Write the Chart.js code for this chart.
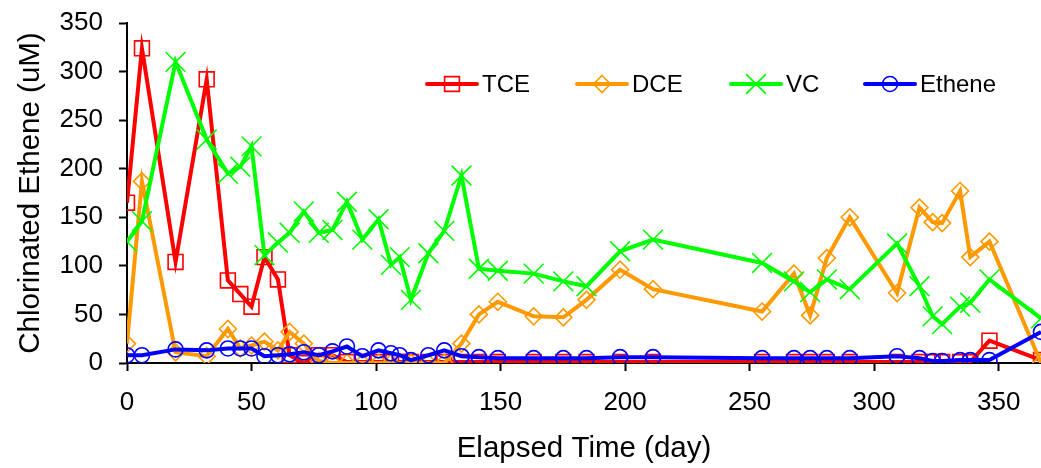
<!DOCTYPE html>
<html>
<head>
<meta charset="utf-8">
<script src="https://cdn.jsdelivr.net/npm/chart.js@4.4.1/dist/chart.umd.min.js"></script>
<style>
  html, body { margin: 0; padding: 0; background: #fff; overflow: hidden; }
  #wrap { position: relative; width: 1041px; height: 468px; }
</style>
</head>
<body>
<div id="wrap"><canvas id="myChart"></canvas></div>
<script>
// sampling days (shared by all four species)
const days = [0, 6, 19.5, 32, 40.5, 45.5, 50, 55.2, 60.6, 65.3, 71, 77, 82.5, 88.3, 94.5, 101,
  106, 109.5, 114, 121, 127.4, 134.3, 141.3, 148.9, 163.3, 175.2, 184.5, 198, 211.2, 255,
  267.8, 274.3, 281, 290.2, 309.2, 318.2, 323.5, 327.3, 334.5, 338.6, 346.3, 367];

// concentrations in uM
const tce = [165, 324, 104, 292, 85, 71, 58, 109, 86, 8, 0, 8, 8, 1, 1, 1,
  1, 1, 1, 1, 1, 1, 1, 1, 1, 1, 1, 1, 1, 1,
  1, 1, 1, 1, 1, 1, 1, 1, 1, 1, 23, 3];

const dce = [20, 187, 11, 7, 35, 15, 18, 22, 13, 32, 20, 2, 0, 0, 0, 0,
  0, 0, 0, 0, 0, 20, 50, 63, 48, 47, 65, 96, 76, 53,
  92, 49, 108, 150, 72, 160, 145, 144, 177, 109, 125, 0];

const vc = [125, 146, 310, 230, 195, 202, 223, 111, 124, 134, 156, 134, 137, 166, 127, 148,
  101, 109, 65, 113, 136, 193, 97, 95, 92, 84, 79, 115, 127, 103,
  84, 73, 86, 76, 123, 79, 48, 40, 58, 62, 86, 46];

const ethene = [8, 8, 14, 13, 15, 15, 15, 7, 8, 9, 11, 8, 12, 17, 7, 13,
  10, 8, 3, 8, 13, 7, 6, 5, 5, 5, 5, 6, 6, 5,
  5, 5, 5, 5, 7, 5, 2, 2, 3, 3, 3, 32];

const seriesNames = ["TCE", "DCE", "VC", "Ethene"];
const seriesValues = [tce, dce, vc, ethene];
const seriesColors = ["#FF0000", "#FF9900", "#00FF00", "#0000FF"];
const seriesMarkers = ["rect", "rectRot", "crossRot", "circle"];
const markerRadius = [10.5, 8.5, 14, 7.5];

const xTicks = [0, 50, 100, 150, 200, 250, 300, 350];

// build one line dataset per species
const datasets = seriesNames.map(function (name, s) {
  return {
    label: name,
    data: days.map(function (d, i) { return { x: d, y: seriesValues[s][i] }; }),
    borderColor: seriesColors[s],
    borderWidth: 4,
    tension: 0,
    pointStyle: seriesMarkers[s],
    pointRadius: markerRadius[s],
    pointHoverRadius: markerRadius[s],
    pointBorderColor: seriesColors[s],
    pointBackgroundColor: "rgba(0,0,0,0)",
    pointBorderWidth: 1.6,
    order: 4 - s // ethene ends up on top
  };
});

// draws a hollow marker the same way the points look
function drawMarker(ctx, style, x, y, r, color) {
  ctx.save();
  ctx.strokeStyle = color;
  ctx.lineWidth = 1.6;
  ctx.beginPath();
  if (style === "rect") {
    const h = r * Math.SQRT1_2;
    ctx.rect(x - h, y - h, 2 * h, 2 * h);
  } else if (style === "rectRot") {
    ctx.moveTo(x, y - r);
    ctx.lineTo(x + r, y);
    ctx.lineTo(x, y + r);
    ctx.lineTo(x - r, y);
    ctx.closePath();
  } else if (style === "crossRot") {
    const h = r * Math.SQRT1_2;
    ctx.moveTo(x - h, y - h);
    ctx.lineTo(x + h, y + h);
    ctx.moveTo(x - h, y + h);
    ctx.lineTo(x + h, y - h);
  } else {
    ctx.arc(x, y, r, 0, Math.PI * 2);
  }
  ctx.stroke();
  ctx.restore();
}

// legend row sitting inside the plot: line + marker + name
const legendStartX = [427, 577, 731, 865];
const legendLineLen = 50;
const legendY = 84;

const insideLegend = {
  id: "insideLegend",
  afterDatasetsDraw(chart) {
    const ctx = chart.ctx;
    chart.data.datasets.forEach(function (ds, i) {
      const x0 = legendStartX[i];
      ctx.save();
      ctx.strokeStyle = ds.borderColor;
      ctx.lineWidth = 4;
      ctx.lineCap = "round";
      ctx.beginPath();
      ctx.moveTo(x0, legendY);
      ctx.lineTo(x0 + legendLineLen, legendY);
      ctx.stroke();
      ctx.restore();
      drawMarker(ctx, ds.pointStyle, x0 + legendLineLen / 2, legendY, ds.pointRadius, ds.borderColor);
      ctx.save();
      ctx.fillStyle = "#000";
      ctx.font = "24px 'Liberation Sans', Arial, sans-serif";
      ctx.textBaseline = "middle";
      ctx.fillText(ds.label, x0 + legendLineLen + 5, legendY + 1);
      ctx.restore();
    });
  }
};

const fontFamily = "'Liberation Sans', Arial, sans-serif";

new Chart("myChart", {
  type: "line",
  data: { datasets: datasets },
  plugins: [insideLegend],
  options: {
    responsive: true,
    maintainAspectRatio: false,
    animation: false,
    devicePixelRatio: 1,
    layout: {
      autoPadding: false,
      padding: { top: 23, right: 0, left: 0, bottom: 0 }
    },
    plugins: {
      legend: { display: false },
      tooltip: { enabled: false }
    },
    scales: {
      x: {
        type: "linear",
        min: 0,
        max: 367,
        afterBuildTicks: function (scale) {
          scale.ticks = xTicks.map(function (v) { return { value: v }; });
        },
        afterFit: function (scale) {
          scale.height = 105;
          scale.paddingLeft = 0;
          scale.paddingRight = 0;
        },
        ticks: {
          stepSize: 50,
          color: "#000",
          padding: 16,
          maxRotation: 0,
          font: { family: fontFamily, size: 26 }
        },
        grid: {
          drawOnChartArea: false,
          tickLength: 8,
          tickWidth: 2,
          tickColor: "#000"
        },
        border: { color: "#000", width: 2 },
        title: {
          display: true,
          text: "Elapsed Time (day)",
          color: "#000",
          font: { family: fontFamily, size: 29.5 },
          padding: { top: 0, bottom: 1 }
        }
      },
      y: {
        min: 0,
        max: 350,
        afterFit: function (scale) {
          scale.width = 127;
          scale.paddingTop = 0;
          scale.paddingBottom = 0;
        },
        ticks: {
          stepSize: 50,
          color: "#000",
          padding: 16,
          font: { family: fontFamily, size: 26 }
        },
        grid: {
          drawOnChartArea: false,
          tickLength: 8,
          tickWidth: 2,
          tickColor: "#000"
        },
        border: { color: "#000", width: 2 },
        title: {
          display: true,
          text: "Chlorinated Ethene (uM)",
          color: "#000",
          font: { family: fontFamily, size: 29.5 },
          padding: { top: 13, bottom: 0 }
        }
      }
    }
  }
});
</script>
</body>
</html>
